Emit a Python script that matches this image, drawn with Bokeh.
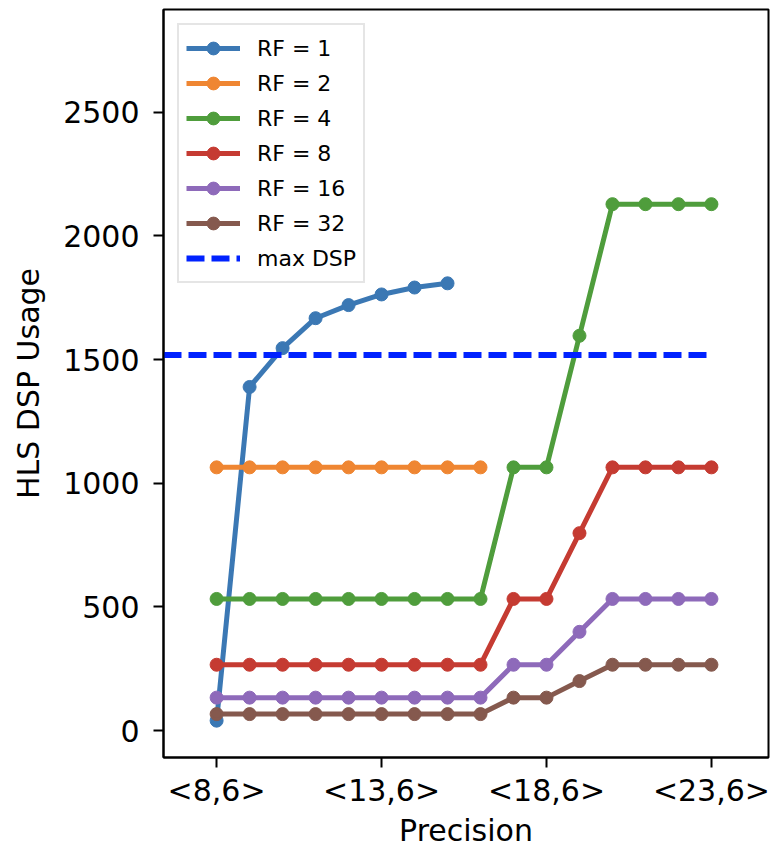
from bokeh.plotting import figure
from bokeh.models import Range1d, FixedTicker, Legend, LegendItem
from bokeh.embed import file_html
from bokeh.resources import INLINE

# Precision categories <W,6>, W = 8..23
widths = list(range(8, 24))
precision_labels = [f"<{w},6>" for w in widths]
tick_widths = [8, 13, 18, 23]

rf1 = [40, 1389, 1546, 1667, 1720, 1763, 1791, 1808]
rf2 = [1064, 1064, 1064, 1064, 1064, 1064, 1064, 1064, 1064]
rf4 = [532] * 9 + [1064, 1064, 1596, 2128, 2128, 2128, 2128]
rf8 = [266] * 9 + [532, 532, 798, 1064, 1064, 1064, 1064]
rf16 = [133] * 9 + [266, 266, 399, 532, 532, 532, 532]
rf32 = [66.5] * 9 + [133, 133, 200, 266, 266, 266, 266]
max_dsp = 1518

series = [
    ("RF = 1", rf1, "#3b78b4"),
    ("RF = 2", rf2, "#ef8632"),
    ("RF = 4", rf4, "#4f9d3c"),
    ("RF = 8", rf8, "#c53b32"),
    ("RF = 16", rf16, "#8e6aba"),
    ("RF = 32", rf32, "#85594e"),
]

x_start, x_end = 6.39, 24.73
p = figure(width=770, height=850, output_backend="svg", toolbar_location=None,
           x_range=Range1d(x_start, x_end), y_range=Range1d(-109, 2915),
           min_border_left=163, min_border_right=2, min_border_top=9,
           min_border_bottom=90)

p.xgrid.visible = False
p.ygrid.visible = False
p.outline_line_color = "black"
p.outline_line_width = 2
p.outline_line_alpha = 1

items = []
for label, ys, color in series:
    xs = widths[:len(ys)]
    l1 = p.line(xs, ys, line_color=color, line_width=5)
    p.scatter(xs, ys, size=13, fill_color=color, line_color=color)
    # smaller marker drawn under the same points, used for the legend glyph
    l2 = p.scatter(xs, ys, size=8, fill_color=color, line_color=color)
    items.append(LegendItem(label=label, renderers=[l1, l2]))

ld = p.line([x_start, widths[-1]], [max_dsp, max_dsp], line_color="#0022ff",
            line_width=6, line_dash="18 7")
items.append(LegendItem(label="max DSP", renderers=[ld]))

legend = Legend(items=items, location="top_left", label_text_font="DejaVu Sans",
                label_text_font_size="22px", label_text_color="black",
                label_height=32, glyph_height=32,
                glyph_width=54, spacing=3, padding=7, margin=14,
                border_line_color="#cccccc", border_line_width=2,
                label_standoff=17, background_fill_alpha=0.85)
p.add_layout(legend)

p.xaxis.ticker = FixedTicker(ticks=tick_widths)
p.xaxis.major_label_overrides = {w: precision_labels[widths.index(w)] for w in tick_widths}
p.yaxis.ticker = FixedTicker(ticks=[0, 500, 1000, 1500, 2000, 2500])

for ax in (p.xaxis, p.yaxis):
    ax.axis_line_color = "black"
    ax.axis_line_width = 2
    ax.major_tick_line_color = "black"
    ax.major_tick_line_width = 2
    ax.major_tick_out = 10
    ax.major_tick_in = 0
    ax.minor_tick_line_color = None
    ax.major_label_text_font = "DejaVu Sans"
    ax.major_label_text_font_size = "30px"
    ax.major_label_text_color = "black"
    ax.axis_label_text_font = "DejaVu Sans"
    ax.axis_label_text_font_size = "30px"
    ax.axis_label_text_font_style = "normal"
    ax.axis_label_text_color = "black"

p.xaxis.axis_label = "Precision"
p.yaxis.axis_label = "HLS DSP Usage"
p.xaxis.major_label_standoff = 5
p.yaxis.major_label_standoff = 14
p.xaxis.axis_label_standoff = 2
p.yaxis.axis_label_standoff = 14

open("out.html", "w").write(file_html(p, INLINE))
